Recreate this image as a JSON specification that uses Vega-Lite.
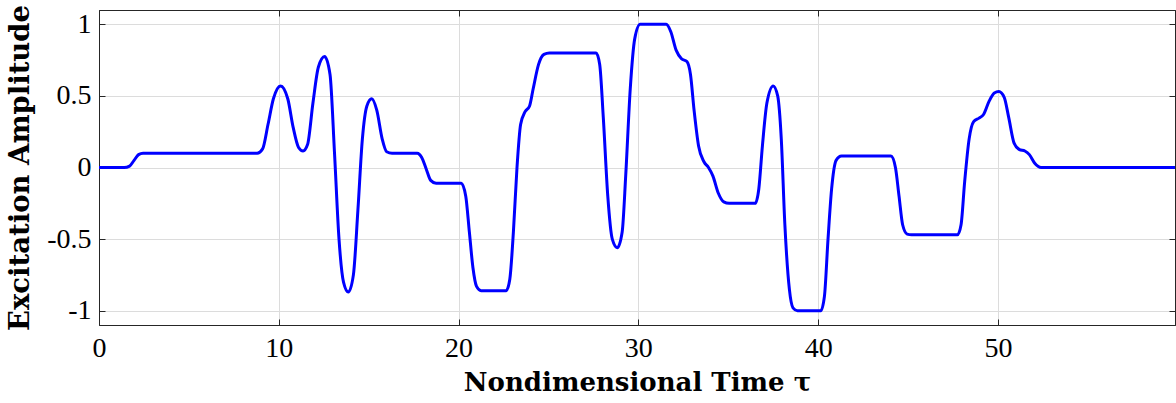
{
  "$schema": "https://vega.github.io/schema/vega-lite/v6.json",
  "autosize": {"type": "none"},
  "width": 1076,
  "height": 315,
  "padding": {"left": 99, "top": 10, "right": 1, "bottom": 78},
  "background": "white",
  "config": {
    "view": {"stroke": "#262626", "strokeWidth": 1},
    "axis": {
      "labelFont": "Liberation Serif",
      "labelFontSize": 28,
      "labelColor": "black",
      "titleFont": "DejaVu Serif",
      "titleFontWeight": "bold",
      "titleFontSize": 26,
      "titleColor": "black",
      "domainColor": "#262626",
      "tickColor": "#262626",
      "tickSize": -6,
      "gridColor": "#dcdcdc",
      "gridWidth": 1
    }
  },
  "data": {"values": [
    {"t": 0, "a": 0}, {"t": 1.4, "a": 0}, {"t": 1.7, "a": 0.01}, {"t": 1.95, "a": 0.05}, {"t": 2.2, "a": 0.09}, {"t": 2.45, "a": 0.1},
    {"t": 8.8, "a": 0.1}, {"t": 9.1, "a": 0.13}, {"t": 9.4, "a": 0.3}, {"t": 9.7, "a": 0.48}, {"t": 10.1, "a": 0.57}, {"t": 10.5, "a": 0.48},
    {"t": 10.8, "a": 0.28}, {"t": 11.1, "a": 0.14}, {"t": 11.35, "a": 0.115}, {"t": 11.6, "a": 0.16}, {"t": 11.9, "a": 0.45}, {"t": 12.2, "a": 0.7},
    {"t": 12.55, "a": 0.775}, {"t": 12.85, "a": 0.65}, {"t": 13.1, "a": 0.1}, {"t": 13.35, "a": -0.5}, {"t": 13.6, "a": -0.8}, {"t": 13.87, "a": -0.87},
    {"t": 14.15, "a": -0.75}, {"t": 14.4, "a": -0.3}, {"t": 14.65, "a": 0.2}, {"t": 14.9, "a": 0.43}, {"t": 15.17, "a": 0.48}, {"t": 15.45, "a": 0.4},
    {"t": 15.75, "a": 0.2}, {"t": 16.0, "a": 0.11}, {"t": 16.3, "a": 0.1}, {"t": 17.7, "a": 0.1}, {"t": 17.95, "a": 0.07}, {"t": 18.2, "a": -0.01},
    {"t": 18.45, "a": -0.09}, {"t": 18.75, "a": -0.11}, {"t": 20.15, "a": -0.11}, {"t": 20.4, "a": -0.2}, {"t": 20.6, "a": -0.45}, {"t": 20.8, "a": -0.7},
    {"t": 21.0, "a": -0.83}, {"t": 21.25, "a": -0.86}, {"t": 22.65, "a": -0.86}, {"t": 22.85, "a": -0.78}, {"t": 23.05, "a": -0.45}, {"t": 23.25, "a": 0.0},
    {"t": 23.45, "a": 0.3}, {"t": 23.7, "a": 0.39}, {"t": 23.95, "a": 0.43}, {"t": 24.15, "a": 0.55}, {"t": 24.45, "a": 0.72}, {"t": 24.75, "a": 0.79},
    {"t": 25.05, "a": 0.8}, {"t": 27.65, "a": 0.8}, {"t": 27.85, "a": 0.72}, {"t": 28.05, "a": 0.35}, {"t": 28.3, "a": -0.2}, {"t": 28.55, "a": -0.5},
    {"t": 28.83, "a": -0.56}, {"t": 29.1, "a": -0.45}, {"t": 29.3, "a": -0.05}, {"t": 29.55, "a": 0.55}, {"t": 29.8, "a": 0.9}, {"t": 30.1, "a": 1.0},
    {"t": 31.55, "a": 1.0}, {"t": 31.8, "a": 0.95}, {"t": 32.1, "a": 0.82}, {"t": 32.4, "a": 0.76}, {"t": 32.7, "a": 0.74}, {"t": 32.9, "a": 0.65},
    {"t": 33.1, "a": 0.4}, {"t": 33.35, "a": 0.15}, {"t": 33.65, "a": 0.04}, {"t": 33.9, "a": 0.0}, {"t": 34.15, "a": -0.06}, {"t": 34.45, "a": -0.18},
    {"t": 34.75, "a": -0.24}, {"t": 35.05, "a": -0.25}, {"t": 36.5, "a": -0.25}, {"t": 36.7, "a": -0.15}, {"t": 36.9, "a": 0.15}, {"t": 37.15, "a": 0.45},
    {"t": 37.5, "a": 0.57}, {"t": 37.75, "a": 0.5}, {"t": 37.95, "a": 0.2}, {"t": 38.15, "a": -0.4}, {"t": 38.4, "a": -0.85}, {"t": 38.6, "a": -0.98},
    {"t": 38.85, "a": -1.0}, {"t": 40.15, "a": -1.0}, {"t": 40.35, "a": -0.9}, {"t": 40.55, "a": -0.5}, {"t": 40.75, "a": -0.15}, {"t": 41.0, "a": 0.05},
    {"t": 41.3, "a": 0.08}, {"t": 44.05, "a": 0.08}, {"t": 44.3, "a": 0.0}, {"t": 44.5, "a": -0.2}, {"t": 44.7, "a": -0.4}, {"t": 44.95, "a": -0.465},
    {"t": 45.2, "a": -0.47}, {"t": 47.75, "a": -0.47}, {"t": 47.95, "a": -0.4}, {"t": 48.15, "a": -0.1}, {"t": 48.4, "a": 0.2}, {"t": 48.65, "a": 0.32},
    {"t": 48.95, "a": 0.345}, {"t": 49.2, "a": 0.37}, {"t": 49.5, "a": 0.46}, {"t": 49.8, "a": 0.52}, {"t": 50.05, "a": 0.53}, {"t": 50.35, "a": 0.49},
    {"t": 50.6, "a": 0.35}, {"t": 50.9, "a": 0.17}, {"t": 51.2, "a": 0.125}, {"t": 51.5, "a": 0.115}, {"t": 51.75, "a": 0.09}, {"t": 52.05, "a": 0.03},
    {"t": 52.4, "a": 0.0}, {"t": 59.85, "a": 0}
  ]},
  "layer": [
    {
      "mark": {"type": "line", "color": "#0000ff", "strokeWidth": 3, "interpolate": "monotone"},
      "encoding": {
        "x": {"field": "t", "type": "quantitative", "scale": {"domain": [0, 59.85], "nice": false, "zero": false},
          "axis": {"orient": "bottom", "values": [0, 10, 20, 30, 40, 50], "title": "Nondimensional Time τ", "labelPadding": 15, "titlePadding": 7, "grid": true, "labelFlush": false, "labelOverlap": false}},
        "y": {"field": "a", "type": "quantitative", "scale": {"domain": [-1.1, 1.1], "nice": false, "zero": false},
          "axis": {"orient": "left", "values": [-1, -0.5, 0, 0.5, 1], "labelExpr": "'' + datum.value", "title": "Excitation Amplitude", "titleFontSize": 27.5, "labelPadding": 14, "titlePadding": 12, "grid": true, "labelFlush": false, "labelOverlap": false}}
      }
    },
    {
      "mark": {"type": "line", "opacity": 0},
      "encoding": {
        "x": {"field": "t", "type": "quantitative", "axis": {"orient": "top", "values": [0, 10, 20, 30, 40, 50], "labels": false, "title": null, "grid": false}},
        "y": {"field": "a", "type": "quantitative", "axis": {"orient": "right", "values": [-1, -0.5, 0, 0.5, 1], "labels": false, "title": null, "grid": false}}
      }
    }
  ],
  "resolve": {"axis": {"x": "independent", "y": "independent"}}
}
